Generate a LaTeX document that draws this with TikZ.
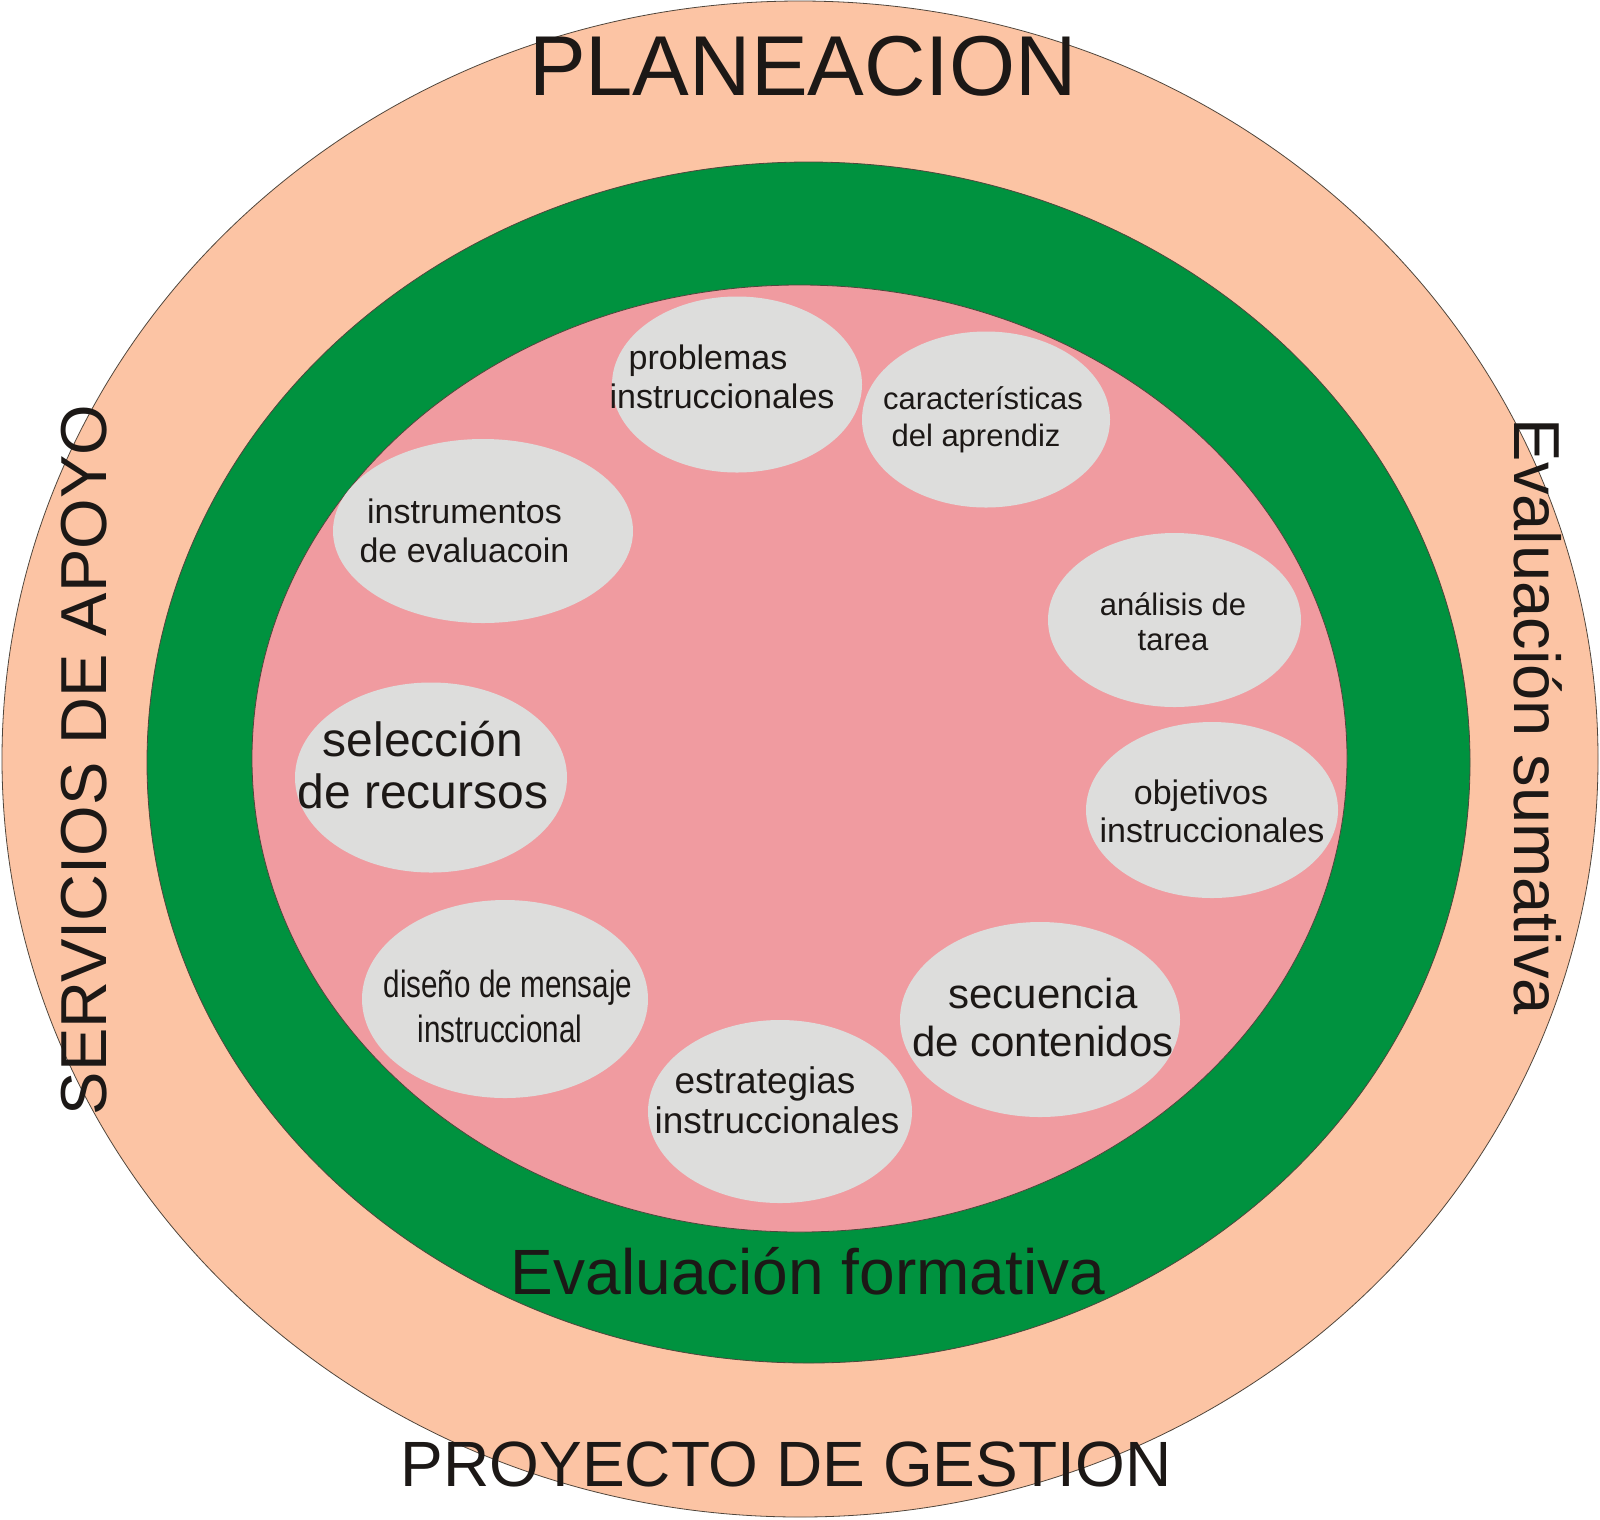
\documentclass[tikz,border=0pt]{standalone}
\usepackage{fontspec}
\setmainfont{Liberation Sans}
\newfontfamily\narrowfont[FakeStretch=0.78]{Liberation Sans}
\usetikzlibrary{shapes.geometric}
\definecolor{peach}{RGB}{252,196,164}
\definecolor{ringgreen}{RGB}{0,146,63}
\definecolor{innerpink}{RGB}{240,155,160}
\definecolor{bubblegray}{RGB}{221,221,220}
\definecolor{ink}{RGB}{28,24,22}
\definecolor{edge}{RGB}{80,70,60}
\begin{document}
\begin{tikzpicture}[x=1pt,y=-1pt,
  ring/.style={ellipse, inner sep=0pt, outer sep=0pt, draw=edge, line width=0.8pt},
  bubble/.style={ellipse, inner sep=0pt, outer sep=0pt, fill=bubblegray},
  btext/.style={align=center, inner sep=0pt, text=ink},
  big/.style={inner sep=0pt, text=ink, anchor=base, font=\fontsize{64}{70}\selectfont}]
\useasboundingbox (0,0) rectangle (1600,1519);
\fill[white] (0,0) rectangle (1600,1519);
% rings
\node[ring, fill=peach, minimum width=1596pt, minimum height=1516pt] (outer) at (800,759) {};
\node[ring, fill=ringgreen, minimum width=1323pt, minimum height=1201pt] (green) at (808.5,762.5) {};
\node[ring, fill=innerpink, minimum width=1095pt, minimum height=947pt] (pink) at (799.5,758.5) {};
% bubbles
\node[bubble, minimum width=250pt, minimum height=176pt] (prob) at (737,384.5) {};
\node[btext, font=\fontsize{34}{39}\selectfont] (probT) at (722,377) {problemas\hspace*{28pt}\\instruccionales};

\node[bubble, minimum width=248pt, minimum height=176pt] (carac) at (986,419.5) {};
\node[btext, font=\fontsize{31}{37}\selectfont] (caracT) at (983,419.5) {características\\del aprendiz\hspace*{14pt}};

\node[bubble, minimum width=300pt, minimum height=184pt] (instr) at (483,531) {};
\node[btext, font=\fontsize{34}{39}\selectfont] (instrT) at (464.5,531) {instrumentos\\de evaluacoin};

\node[bubble, minimum width=272pt, minimum height=190pt] (selec) at (431,777.5) {};
\node[btext, font=\fontsize{48}{52}\selectfont] (selecT) at (423,765) {selección\\de recursos};

\node[bubble, minimum width=253pt, minimum height=174pt] (anal) at (1174.5,620) {};
\node[btext, font=\fontsize{31}{35}\selectfont] (analT) at (1173,622) {análisis de\\tarea};

\node[bubble, minimum width=252pt, minimum height=176pt] (obj) at (1212,810) {};
\node[btext, font=\fontsize{34}{38}\selectfont] (objT) at (1212,811.5) {objetivos\hspace*{22pt}\\instruccionales};

\node[bubble, minimum width=286pt, minimum height=198pt] (dis) at (505,999) {};
\node[btext, font=\narrowfont\fontsize{38}{45}\selectfont] (disT) at (508,1006) {diseño de mensaje\\instruccional\hspace*{16pt}};

\node[bubble, minimum width=264pt, minimum height=183pt] (estr) at (780,1111.5) {};
\node[btext, font=\fontsize{37}{40}\selectfont] (estrT) at (777,1100) {estrategias\hspace*{24pt}\\instruccionales};

\node[bubble, minimum width=280pt, minimum height=195pt] (sec) at (1040,1019.5) {};
\node[btext, font=\fontsize{42}{48}\selectfont] (secT) at (1043,1017) {secuencia\\de contenidos};
% ring labels
\node[big, font=\fontsize{85}{90}\selectfont] (plan) at (803,95) {PLANEACION};
\node[big] (formativa) at (808,1294) {Evaluación formativa};
\node[big] (gestion) at (786,1486) {PROYECTO DE GESTION};
\node[big, font=\fontsize{65}{70}\selectfont, rotate=90] (apoyo) at (106,760) {SERVICIOS DE APOYO};
\node[big, font=\fontsize{65}{70}\selectfont, rotate=-90] (sumativa) at (1514,717) {Evaluación sumativa};
\end{tikzpicture}
\end{document}
